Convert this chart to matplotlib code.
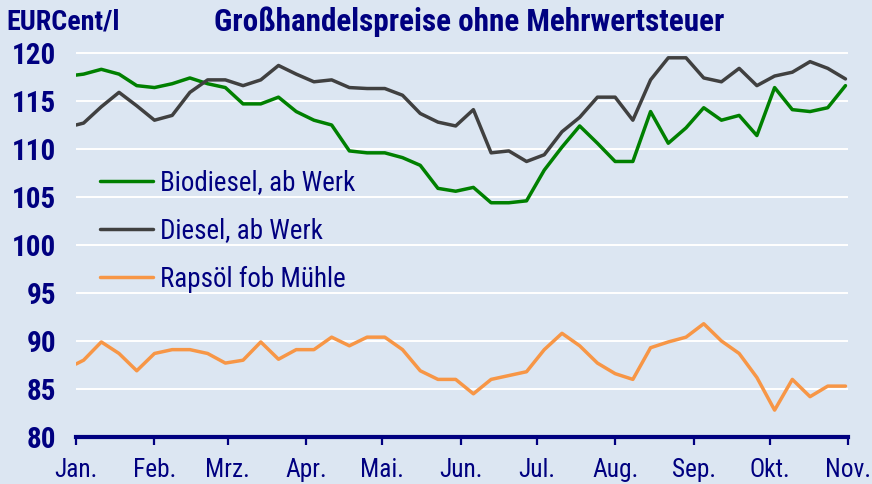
import matplotlib
matplotlib.use("Agg")
import matplotlib.pyplot as plt
import pandas as pd
from datetime import datetime
from matplotlib import font_manager as fm

# ---------------- data ----------------
title = "Großhandelspreise ohne Mehrwertsteuer"
unit_label = "EURCent/l"
series_names = ["Biodiesel, ab Werk", "Diesel, ab Werk", "Rapsöl fob Mühle"]
month_labels = ["Jan.", "Feb.", "Mrz.", "Apr.", "Mai.", "Jun.", "Jul.", "Aug.", "Sep.", "Okt.", "Nov."]
y_ticks = [80, 85, 90, 95, 100, 105, 110, 115, 120]

# observation dates: Jan 1 then weekly from Jan 4 to Nov 1
dates = [pd.Timestamp("2008-01-01")] + list(pd.date_range("2008-01-04", "2008-11-01", freq="7D"))

biodiesel = [117.7, 117.8, 118.3, 117.8, 116.6, 116.4, 116.8, 117.4, 116.8, 116.4,
             114.7, 114.7, 115.4, 113.9, 113.0, 112.5, 109.8, 109.6, 109.6, 109.1,
             108.3, 105.9, 105.6, 106.0, 104.4, 104.4, 104.6, 107.8, 110.2, 112.4,
             110.6, 108.7, 108.7, 113.9, 110.6, 112.2, 114.3, 113.0, 113.5, 111.4,
             116.4, 114.1, 113.9, 114.3, 116.6]
diesel = [112.5, 112.7, 114.4, 115.9, 114.5, 113.0, 113.5, 115.9, 117.2, 117.2,
          116.6, 117.2, 118.7, 117.8, 117.0, 117.2, 116.4, 116.3, 116.3, 115.6,
          113.7, 112.8, 112.4, 114.1, 109.6, 109.8, 108.7, 109.4, 111.8, 113.3,
          115.4, 115.4, 113.0, 117.2, 119.5, 119.5, 117.4, 117.0, 118.4, 116.6,
          117.6, 118.0, 119.1, 118.4, 117.3]
rapsoel = [87.6, 88.0, 89.9, 88.7, 86.9, 88.7, 89.1, 89.1, 88.7, 87.7,
           88.0, 89.9, 88.1, 89.1, 89.1, 90.4, 89.5, 90.4, 90.4, 89.1,
           86.9, 86.0, 86.0, 84.5, 86.0, 86.4, 86.8, 89.1, 90.8, 89.5,
           87.7, 86.6, 86.0, 89.3, 89.9, 90.4, 91.8, 90.0, 88.7, 86.2,
           82.8, 86.0, 84.2, 85.3, 85.3]

# ---------------- style ----------------
BG = "#dce6f2"
NAVY = "#000080"
colors = ["#008000", "#404040", "#f79646"]

names = {f.name for f in fm.fontManager.ttflist}
family = "DejaVu Sans"
for cand in ["Roboto Condensed", "Liberation Sans Narrow", "Archivo Narrow", "Asap Condensed"]:
    if cand in names:
        family = cand
        break
plt.rcParams["font.family"] = [family, "DejaVu Sans"]

W, H = 872, 484
fig = plt.figure(figsize=(W / 100, H / 100), dpi=100)
fig.patch.set_facecolor(BG)
renderer = fig.canvas.get_renderer()


def fit(text, target_px, weight="normal", base=12.0):
    t = fig.text(0, 0, text, fontsize=base, weight=weight)
    w = t.get_window_extent(renderer).width
    t.remove()
    return base * target_px / w


fs_title = fit(title, 512, "bold")
fs_unit = fit(unit_label, 113, "bold")
fs_ytick = fit("115", 44, "bold")
fs_xtick = fit("Feb.", 43)
fs_leg = fit(series_names[0], 195)

ax_left, ax_right, ax_bottom, ax_top = 76, 848, 437, 43.4
ax = fig.add_axes([ax_left / W, 1 - ax_bottom / H, (ax_right - ax_left) / W, (ax_bottom - ax_top) / H])
ax.set_facecolor(BG)

for vals, name, c in zip([biodiesel, diesel, rapsoel], series_names, colors):
    ax.plot(dates, vals, color=c, lw=2.5, label=name, solid_joinstyle="round", solid_capstyle="round")

ax.set_ylim(80, 121)
ax.set_xlim(datetime(2008, 1, 1), datetime(2008, 11, 1))
ax.set_yticks(y_ticks)
ax.set_yticklabels([str(v) for v in y_ticks])
month_pos = [datetime(2008, m, 1) for m in range(1, 12)]
ax.set_xticks(month_pos)
ax.set_xticklabels(month_labels)

ax.grid(axis="y", color="white", lw=1.4)
ax.grid(axis="x", visible=False)
ax.set_axisbelow(True)
for s in ["left", "right", "top"]:
    ax.spines[s].set_visible(False)
ax.spines["bottom"].set_color(NAVY)
ax.spines["bottom"].set_linewidth(3)
ax.tick_params(axis="y", length=0, pad=14, labelsize=fs_ytick, labelcolor=NAVY)
ax.tick_params(axis="x", length=6, width=1.6, color=NAVY, pad=9, labelsize=fs_xtick, labelcolor=NAVY)
for lab in ax.get_yticklabels():
    lab.set_fontweight("bold")

fs_leg_px = fs_leg * 100 / 72
leg = ax.legend(loc="upper left", bbox_to_anchor=(100 / W, 1 - (186 - 0.62 * fs_leg_px) / H),
                bbox_transform=fig.transFigure, frameon=False, fontsize=fs_leg,
                handlelength=53 / fs_leg_px, handletextpad=7 / fs_leg_px,
                labelspacing=55 / fs_leg_px - 1.25, borderpad=0, borderaxespad=0)
for t in leg.get_texts():
    t.set_color(NAVY)
for l in leg.get_lines():
    l.set_linewidth(2.5)

fig.text(469 / W, 1 - 22 / H, title, ha="center", va="center", fontsize=fs_title, weight="bold", color=NAVY)
fig.text(6 / W, 1 - 22 / H, unit_label, ha="left", va="center", fontsize=fs_unit, weight="bold", color=NAVY)

fig.savefig("out.png", dpi=100, facecolor=BG)
